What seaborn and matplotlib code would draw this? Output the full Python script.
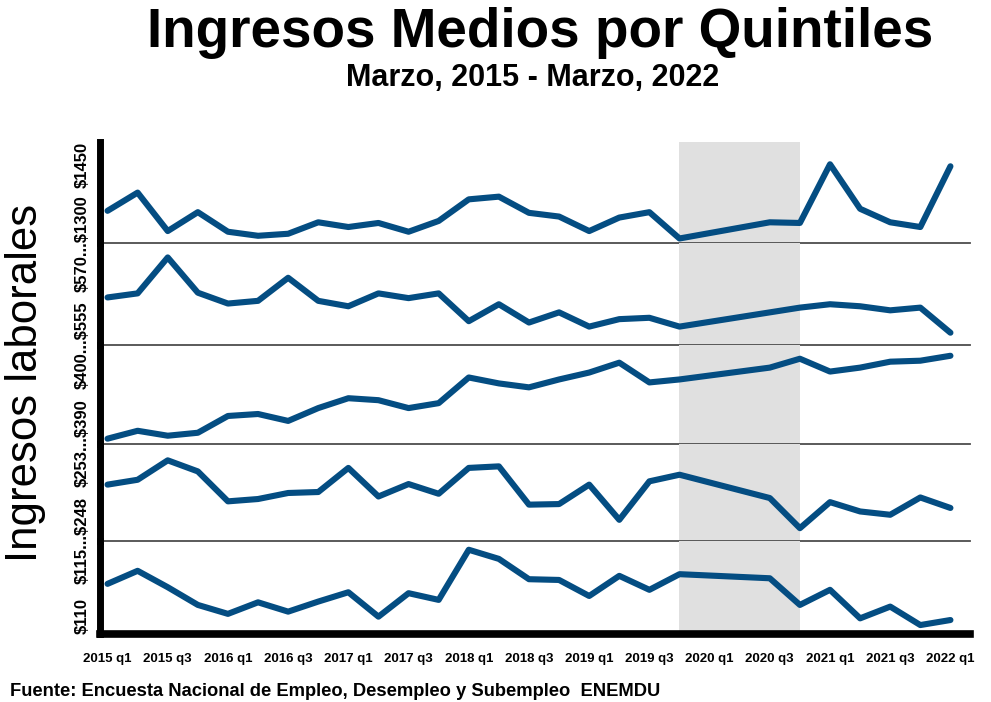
import numpy as np
import pandas as pd
import matplotlib
matplotlib.use("Agg")
import matplotlib.pyplot as plt
import seaborn as sns

# ---------------- data ----------------
trimestres = ["2015 q1", "2015 q2", "2015 q3", "2015 q4",
              "2016 q1", "2016 q2", "2016 q3", "2016 q4",
              "2017 q1", "2017 q2", "2017 q3", "2017 q4",
              "2018 q1", "2018 q2", "2018 q3", "2018 q4",
              "2019 q1", "2019 q2", "2019 q3", "2019 q4",
              "2020 q1", "2020 q2", "2020 q3", "2020 q4",
              "2021 q1", "2021 q2", "2021 q3", "2021 q4",
              "2022 q1"]

# Quintil 5 (top panel) ... Quintil 1 (bottom panel); None = no survey
q5 = [1348, 1375, 1318, 1346, 1317, 1311, 1314, 1331, 1324, 1330, 1317, 1333,
      1365, 1369, 1345, 1339.5, 1318, 1338, 1346, 1307, None, None, 1331, 1330,
      1417, 1351, 1331, 1324, 1414]
q4 = [562.0, 562.6, 567.9, 562.7, 561.1, 561.5, 564.9, 561.5, 560.7, 562.6, 561.9,
      562.6, 558.5, 561.0, 558.3, 559.8, 557.7, 558.8, 559.0, 557.7, None, None,
      559.8, 560.5, 561.0, 560.7, 560.1, 560.5, 556.8]
q3 = [390.5, 391.3, 390.8, 391.1, 392.8, 393.0, 392.3, 393.6, 394.6, 394.4, 393.6,
      394.1, 396.7, 396.1, 395.7, 396.5, 397.2, 398.2, 396.2, 396.5, None, None,
      397.7, 398.6, 397.3, 397.7, 398.3, 398.4, 398.9]
q2 = [250.89, 251.14, 252.14, 251.57, 250.03, 250.15, 250.46, 250.51, 251.75, 250.28,
      250.92, 250.42, 251.75, 251.83, 249.86, 249.89, 250.89, 249.08, 251.06, 251.40,
      None, None, 250.20, 248.65, 249.99, 249.51, 249.34, 250.23, 249.69]
q1 = [112.69, 113.39, 112.51, 111.56, 111.08, 111.70, 111.20, 111.74, 112.24, 110.93,
      112.19, 111.83, 114.52, 114.03, 112.94, 112.90, 112.04, 113.12, 112.37, 113.21,
      None, None, 112.99, 111.56, 112.37, 110.84, 111.47, 110.48, 110.75]

series = [q5, q4, q3, q2, q1]
y_ranges = [(1300, 1450), (555, 570), (390, 400), (248, 253), (110, 115)]
y_labels = ["$1450", "$570...$1300", "$400...$555", "$253...$390", "$115...$248", "$110"]
shade_start, shade_end = "2019 q4", "2020 q4"

title = "Ingresos Medios por Quintiles"
subtitle = "Marzo, 2015 - Marzo, 2022"
ylabel = "Ingresos laborales"
source = "Fuente: Encuesta Nacional de Empleo, Desempleo y Subempleo  ENEMDU"

# ---------------- style ----------------
sns.set_style("white")
plt.rcParams["font.family"] = ["Liberation Sans", "DejaVu Sans"]
plt.rcParams["text.color"] = "black"
plt.rcParams["xtick.color"] = "black"
plt.rcParams["xtick.labelcolor"] = "black"

LINE = "#044d82"
W, H = 991, 702
fig = plt.figure(figsize=(W / 100, H / 100), dpi=100)

left, right = 100 / W, 970 / W
top, bottom = 1 - 142 / H, 1 - 634 / H
gs = fig.add_gridspec(5, 1, left=left, right=right, top=top, bottom=bottom,
                      hspace=0, height_ratios=[101, 101.5, 98.5, 97, 93])

pos = {t: i for i, t in enumerate(trimestres)}
tick_idx = list(range(0, len(trimestres), 2))
x0, x1 = pos[shade_start], pos[shade_end]

axes = []
for k, (vals, yr) in enumerate(zip(series, y_ranges)):
    ax = fig.add_subplot(gs[k])
    axes.append(ax)
    df = pd.DataFrame({"t": trimestres, "v": vals}).dropna()
    df["x"] = df["t"].map(pos)
    ax.axvspan(x0, x1, color="#e0e0e0", zorder=0, lw=0)
    sns.lineplot(data=df, x="x", y="v", ax=ax, color=LINE, linewidth=4.4,
                 solid_capstyle="round", solid_joinstyle="round", zorder=3)
    ax.set_xlim(-0.25, 28.65)
    ax.set_ylim(*yr)
    ax.set_xlabel("")
    ax.set_ylabel("")
    ax.set_yticks([])
    ax.set_xticks(tick_idx)
    for s in ("top", "right"):
        ax.spines[s].set_visible(False)
    ax.spines["left"].set_color("black")
    ax.spines["left"].set_linewidth(5)
    if k < 4:
        ax.spines["bottom"].set_color("#4d4d4d")
        ax.spines["bottom"].set_linewidth(1.3)
        ax.tick_params(axis="x", length=2.2, width=1.5, color="#6a6a6a",
                       labelbottom=False, direction="out")
    else:
        ax.spines["bottom"].set_color("black")
        ax.spines["bottom"].set_linewidth(5.5)
        ax.set_xticklabels([trimestres[i] for i in tick_idx])
        ax.tick_params(axis="x", length=6, width=2, color="black",
                       labelsize=9.5, pad=8, direction="out", labelcolor="black")
        for lab in ax.get_xticklabels():
            lab.set_fontweight("bold")
    ax.set_facecolor("none")

# y labels at panel boundaries
lx = -0.02
kw = dict(rotation=90, ha="center", fontsize=12, fontweight="bold",
          color="black", parse_math=False)
axes[0].text(lx, 1.0, y_labels[0], transform=axes[0].transAxes, va="top", **kw)
for k in range(1, 5):
    axes[k].text(lx, 1.0, y_labels[k], transform=axes[k].transAxes, va="center", **kw)
axes[4].text(lx, 0.0, y_labels[5], transform=axes[4].transAxes, va="bottom", **kw)

fig.text(540 / W, 1 - 47 / H, title, ha="center", va="baseline",
         fontsize=39.5, fontweight="bold", color="black")
fig.text(533 / W, 1 - 86 / H, subtitle, ha="center", va="baseline",
         fontsize=22, fontweight="bold", color="black")
fig.text(26 / W, 1 - 383 / H, ylabel, rotation=90, ha="center", va="center",
         fontsize=31.5, color="black")
fig.text(10 / W, 1 - 692 / H, source, ha="left", va="center",
         fontsize=13.2, fontweight="bold", color="black")

fig.savefig("out.png", dpi=100, facecolor="white")
